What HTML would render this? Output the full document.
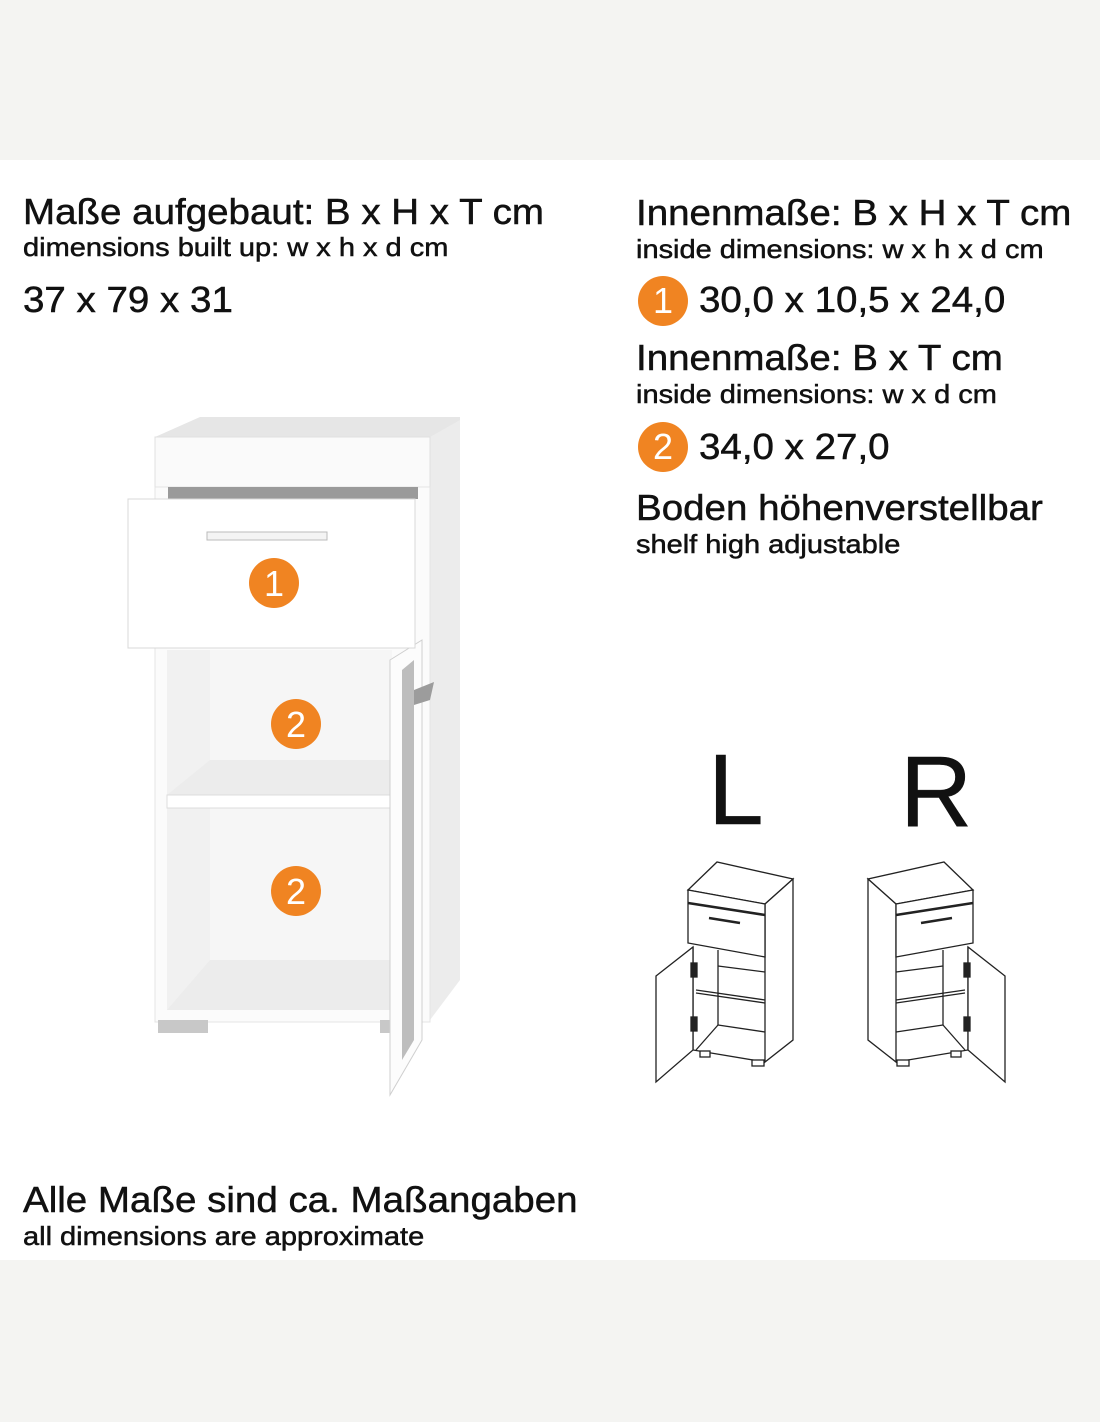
<!DOCTYPE html>
<html><head><meta charset="utf-8"><style>
body{margin:0;width:1100px;height:1422px;background:#f4f4f2;font-family:"Liberation Sans",Arial,sans-serif;position:relative;overflow:hidden}
.w{position:absolute;left:0;top:160px;width:1100px;height:1100px;background:#fff}
.t{position:absolute;white-space:nowrap;color:#111;line-height:1;transform-origin:0 0;-webkit-text-stroke:0.5px #111}
.b{font-size:36px;transform:scaleX(1.07)}.s{font-size:26px;transform:scaleX(1.115)}
.c{position:absolute;width:50px;height:50px;border-radius:50%;background:#f08422;color:#fff;font-size:36px;text-align:center;line-height:50px}
</style></head><body>
<div class="w"></div>
<div class="t b" style="left:23px;top:194px">Maße aufgebaut: B x H x T cm</div>
<div class="t s" style="left:23px;top:234px">dimensions built up: w x h x d cm</div>
<div class="t b" style="left:23px;top:282px">37 x 79 x 31</div>

<div class="t b" style="left:636px;top:195px">Innenmaße: B x H x T cm</div>
<div class="t s" style="left:636px;top:236px">inside dimensions: w x h x d cm</div>
<div class="c" style="left:638px;top:276px">1</div>
<div class="t b" style="left:699px;top:282px">30,0 x 10,5 x 24,0</div>
<div class="t b" style="left:636px;top:340px">Innenmaße: B x T cm</div>
<div class="t s" style="left:636px;top:381px">inside dimensions: w x d cm</div>
<div class="c" style="left:638px;top:422px">2</div>
<div class="t b" style="left:699px;top:429px">34,0 x 27,0</div>
<div class="t b" style="left:636px;top:490px">Boden höhenverstellbar</div>
<div class="t s" style="left:636px;top:531px">shelf high adjustable</div>

<div class="t" style="left:708px;top:740px;font-size:100px">L</div>
<div class="t" style="left:900px;top:742px;font-size:100px">R</div>

<div class="t b" style="left:23px;top:1182px">Alle Maße sind ca. Maßangaben</div>
<div class="t s" style="left:23px;top:1223px">all dimensions are approximate</div>

<svg style="position:absolute;left:0;top:0" width="1100" height="1422">
<polygon points="155,437 200,417 460,417 460,437" fill="#e6e6e6"/>
<polygon points="430,437 460,420 460,980 430,1020" fill="#ececec"/>
<rect x="155" y="437" width="275" height="50" fill="#fafafa" stroke="#e0e0e0"/>
<rect x="155" y="487" width="275" height="535" fill="#fbfbfb" stroke="#e4e4e4"/>
<rect x="168" y="487" width="250" height="12" fill="#9a9a9a"/>
<rect x="167" y="650" width="225" height="360" fill="#f1f1f1"/>
<rect x="210" y="650" width="182" height="310" fill="#f6f6f6"/>
<polygon points="167,795 210,760 392,760 392,795" fill="#ececec"/>
<rect x="167" y="795" width="225" height="13" fill="#fff" stroke="#dcdcdc"/>
<polygon points="167,1010 210,960 392,960 392,1010" fill="#ececec"/>
<rect x="158" y="1020" width="50" height="13" fill="#c8c8c8"/>
<rect x="380" y="1020" width="10" height="13" fill="#c8c8c8"/>
<polygon points="390,660 422,640 422,1040 390,1095" fill="#fcfcfc" stroke="#cfcfcf"/>
<polygon points="402,670 414,660 414,1040 402,1060" fill="#bdbdbd"/>
<polygon points="414,690 434,682 430,700 414,705" fill="#9c9c9c"/>
<rect x="128" y="499" width="287" height="149" fill="#fff" stroke="#d8d8d8"/>
<rect x="207" y="532" width="120" height="8" fill="#f4f4f4" stroke="#bbb"/>
<circle cx="274" cy="583" r="25" fill="#f08422"/><text x="274" y="596" font-size="36" fill="#fff" text-anchor="middle" font-family="Liberation Sans">1</text>
<circle cx="296" cy="724" r="25" fill="#f08422"/><text x="296" y="737" font-size="36" fill="#fff" text-anchor="middle" font-family="Liberation Sans">2</text>
<circle cx="296" cy="891" r="25" fill="#f08422"/><text x="296" y="904" font-size="36" fill="#fff" text-anchor="middle" font-family="Liberation Sans">2</text>

<g id="L" fill="none" stroke="#222" stroke-width="1.3">
<polygon points="688,890 717,862 793,879 765,904" fill="#fff"/>
<polygon points="765,904 793,879 793,1040 765,1062" fill="#fff"/>
<polygon points="688,890 765,904 765,957 688,943" fill="#fff"/>
<line x1="688" y1="903" x2="765" y2="915" stroke-width="2.5"/>
<line x1="709" y1="918" x2="740" y2="923" stroke-width="2.5"/>
<polyline points="693,947 693,1050 765,1062"/>
<line x1="718" y1="950" x2="718" y2="1025"/>
<line x1="718" y1="966" x2="765" y2="972"/>
<line x1="696" y1="990" x2="765" y2="1000"/>
<line x1="696" y1="993" x2="765" y2="1003"/>
<line x1="718" y1="1025" x2="765" y2="1032"/>
<line x1="718" y1="1025" x2="696" y2="1050"/>
<polygon points="656,976 693,947 693,1050 656,1082" fill="#fff"/>
<rect x="691" y="963" width="6" height="14" fill="#222"/>
<rect x="691" y="1017" width="6" height="14" fill="#222"/>
<rect x="700" y="1051" width="10" height="6" fill="#fff"/>
<rect x="752" y="1060" width="12" height="6" fill="#fff"/>
</g>
<use href="#L" transform="translate(1661,0) scale(-1,1)"/>
</svg>
</body></html>
